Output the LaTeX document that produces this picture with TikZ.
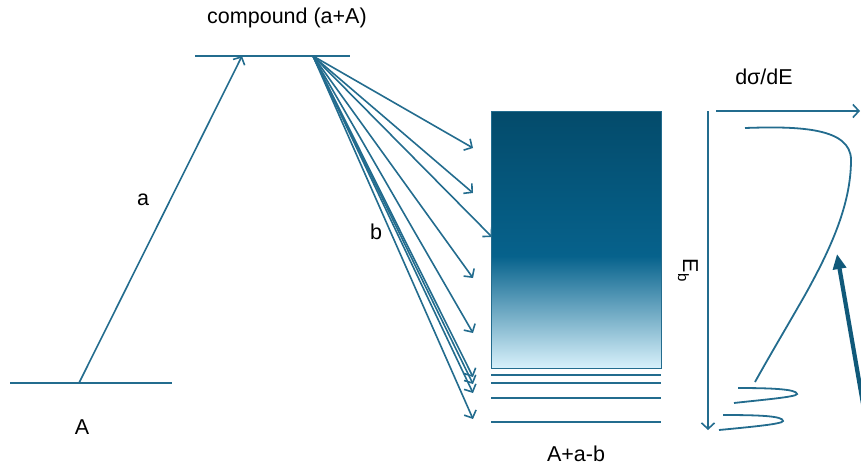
\documentclass[tikz,border=0pt]{standalone}
\usepackage{fontspec}
\setmainfont{Liberation Sans}
\usetikzlibrary{arrows.meta}
\definecolor{ln}{HTML}{236C8E}
\definecolor{thk}{HTML}{10597A}
\definecolor{gA}{HTML}{044B6B}
\definecolor{gB}{HTML}{06628C}
\definecolor{gC}{HTML}{D8F1FB}
\begin{document}
\begin{tikzpicture}[x=1pt,y=-1pt,
  lvl/.style={draw=ln,line width=2pt},
  arr/.style={draw=ln,line width=1.6pt,-{Straight Barb[length=6pt,width=13pt,line width=1.6pt]}},
  lab/.style={font=\fontsize{21.5}{24}\selectfont,text=black,inner sep=0pt}]
\useasboundingbox (0,0) rectangle (861,467);
% ground level A
\coordinate (A1) at (10,383); \coordinate (A2) at (172,383);
\draw[lvl] (A1) -- (A2);
\node[lab] (lA) at (82,427) {A};
% compound level
\coordinate (C1) at (195,56); \coordinate (C2) at (350,56);
\draw[lvl] (C1) -- (C2);
\node[lab] (lC) at (287,18) {compound (a+A)};
% arrow a
\coordinate (aS) at (79,383); \coordinate (aE) at (242,56);
\draw[arr] (aS) -- (aE);
\node[lab] (la) at (143,200) {a};
% fan of b arrows
\coordinate (O) at (313,56);
\foreach \y [count=\i] in {148,193,278,333,377,384,393,419}{
  \coordinate (t\i) at (473,\y);
  \draw[arr] (O) -- (t\i);
}
\coordinate (t0) at (492,237);
\draw[arr] (O) -- (t0);
\node[lab] (lb) at (376,232) {b};
% continuum box
\shade[top color=gA,bottom color=gB] (491,111) rectangle (661,257);
\shade[top color=gB,bottom color=gC] (491,256) rectangle (661,368);
\node[draw=ln,line width=1pt,minimum width=170pt,minimum height=257pt,inner sep=0pt] (box) at (576,239.5) {};
% discrete levels
\foreach \y [count=\i] in {375,383,398,422}{
  \coordinate (L\i a) at (491,\y); \coordinate (L\i b) at (661,\y);
  \draw[lvl] (L\i a) -- (L\i b);
}
\node[lab] (lAab) at (576,454) {A+a-b};
% axes
\coordinate (V1) at (708,111); \coordinate (V2) at (708,430);
\draw[arr] (V1) -- (V2);
\coordinate (H1) at (716,111); \coordinate (H2) at (860,111);
\draw[arr] (H1) -- (H2);
\node[lab] (lds) at (764,77) {dσ/dE};
\node[lab,rotate=-90] (lEb) at (688,270) {E\kern0.5pt\raisebox{-5pt}{\fontsize{15}{15}\selectfont b}};
% spectrum curve
\draw[ln,line width=1.8pt] (745,128) .. controls (800,126) and (851,128) .. (851,160)
  .. controls (851,205) and (830,250) .. (805,295)
  .. controls (785,330) and (770,355) .. (755,382);
\draw[ln,line width=1.8pt] (738,388) .. controls (770,388) and (797,389) .. (797,394)
  .. controls (797,397) and (760,400) .. (734,403);
\draw[ln,line width=1.8pt] (723,415) .. controls (760,415) and (783,416) .. (783,421)
  .. controls (783,424) and (750,427) .. (719,430);
% thick arrow
\begin{scope}
\clip (0,0) rectangle (861,467);
\coordinate (T1) at (874,467); \coordinate (T2) at (837,254);
\draw[thk,line width=4.2pt,-{Triangle[length=15pt,width=13pt]}] (T1) -- (T2);
\end{scope}
\end{tikzpicture}
\end{document}
